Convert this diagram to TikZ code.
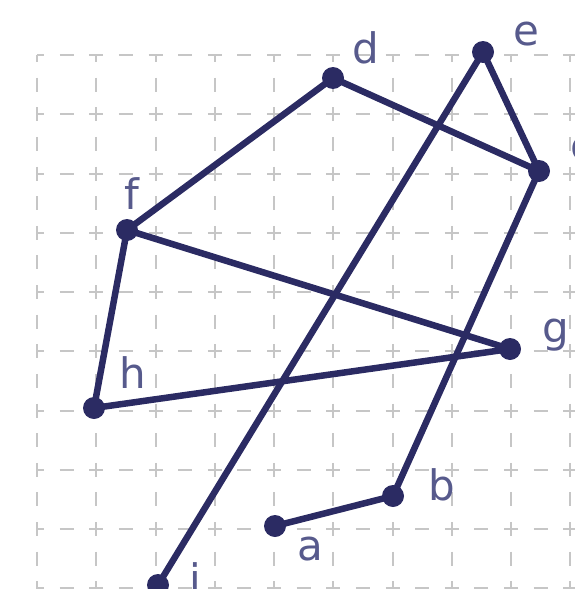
\documentclass[tikz,border=0pt]{standalone}
\usepackage{fontspec}
\setmainfont{DejaVu Sans}
\definecolor{navy}{HTML}{2B2B63}
\definecolor{lblc}{HTML}{575A8C}
\definecolor{gridc}{HTML}{C6C6C6}
\tikzset{
  dotnode/.style={circle, fill=navy, inner sep=0pt, minimum size=22pt},
  edge/.style={draw=navy, line width=6.5pt, line cap=round, line join=round},
  lab/.style={text=lblc, font=\fontsize{42}{50}\selectfont, inner sep=0pt, anchor=base},
  gridline/.style={draw=gridc, line width=2pt, dash pattern=on 14pt off 15.625pt, dash phase=7pt}
}
\begin{document}
\begin{tikzpicture}[x=1pt,y=-1pt]
\useasboundingbox (0,0) rectangle (575,589);
% grid
\foreach \k in {0,...,9}{
  \draw[gridline] ({37+59.25*\k},55) -- ({37+59.25*\k},620);
  \draw[gridline] (37,{55+59.25*\k}) -- (620,{55+59.25*\k});
}
% points
\node[dotnode] (d) at (333,78) {};
\node[dotnode] (e) at (483,52) {};
\node[dotnode] (c) at (539,171) {};
\node[dotnode] (f) at (127,230) {};
\node[dotnode] (g) at (510,349) {};
\node[dotnode] (h) at (94,408) {};
\node[dotnode] (b) at (393,496) {};
\node[dotnode] (a) at (275,526) {};
\node[dotnode] (i) at (158,585) {};
% edges
\draw[edge] (d.center) -- (f.center);
\draw[edge] (d.center) -- (c.center);
\draw[edge] (e.center) -- (c.center);
\draw[edge] (e.center) -- (i.center);
\draw[edge] (c.center) -- (b.center);
\draw[edge] (b.center) -- (a.center);
\draw[edge] (f.center) -- (g.center);
\draw[edge] (f.center) -- (h.center);
\draw[edge] (h.center) -- (g.center);
% labels
\node[lab] (ld) at (366,63) {d};
\node[lab] (le) at (526,45) {e};
\node[lab] (lc) at (582,160) {c};
\node[lab] (lf) at (132,209) {f};
\node[lab] (lg) at (556,342) {g};
\node[lab] (lh) at (133,388) {h};
\node[lab] (lb) at (442,500) {b};
\node[lab] (la) at (310,560) {a};
\node[lab] (li) at (195,594) {i};
\end{tikzpicture}
\end{document}
